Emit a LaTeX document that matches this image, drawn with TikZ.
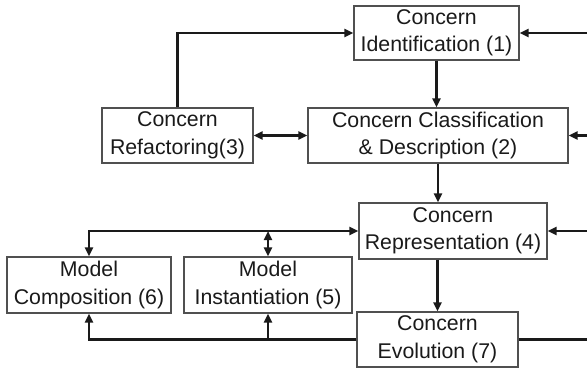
\documentclass[tikz,border=0pt]{standalone}
\usepackage{fontspec}
\setmainfont{Liberation Sans}
\usetikzlibrary{arrows.meta}
\definecolor{ink}{HTML}{1A1A1A}
\definecolor{frame}{HTML}{505050}
\begin{document}
\begin{tikzpicture}[x=1pt,y=-1pt,
  box/.style={draw=frame,line width=1.1pt,fill=white,inner sep=0pt,align=center,
    text=ink,font=\fontsize{21.3}{27.5}\selectfont},
  conn/.style={draw=ink,line width=2.2pt},
  arr/.style={conn,-{Triangle[length=9pt,width=8pt]}},
  arrtwo/.style={conn,{Triangle[length=9pt,width=8pt]}-{Triangle[length=9pt,width=8pt]}}]
\useasboundingbox (0,0) rectangle (587,370);

% process steps
\node[box,minimum width=165pt,minimum height=54pt] (b1) at (436.5,33) {Concern\\Identification (1)};
\node[box,minimum width=260pt,minimum height=55pt] (b2) at (438,135.5) {Concern Classification\\\& Description (2)};
\node[box,minimum width=151pt,minimum height=55pt] (b3) at (177.5,135.5) {Concern\\Refactoring(3)};
\node[box,minimum width=188pt,minimum height=56pt] (b4) at (453,231) {Concern\\Representation (4)};
\node[box,minimum width=168pt,minimum height=56pt] (b5) at (268,285) {Model\\Instantiation (5)};
\node[box,minimum width=164pt,minimum height=56pt] (b6) at (89,285) {Model\\Composition (6)};
\node[box,minimum width=161pt,minimum height=55pt] (b7) at (437.5,339.5) {Concern\\Evolution (7)};

% feedback lines entering from the right
\coordinate (r1) at (587,33);
\coordinate (r2) at (587,135.5);
\coordinate (r4) at (587,231);
\coordinate (r7) at (587,339.5);

% main flow
\draw[arr] (b1.south) -- (b1.south |- b2.north);
\draw[arr] (b2.south) -- (b2.south |- b4.north);
\draw[arr] (b4.south -| b7.north) -- (b7.north);
\draw[arrtwo] (b3.east) -- (b2.west);
\draw[arr] (b3.north) |- (b1.west);

% model composition / instantiation loop
\draw[arrtwo] (b6.north) |- (b4.west);
\coordinate (j5) at (b5.north |- b4.west);
\draw[arrtwo] (j5) -- (b5.north);
\draw[arr] (b7.west) -| (b6.south);
\draw[arr] (b7.west -| b5.south) -- (b5.south);

% right-hand bus
\draw[arr] (r1) -- (b1.east);
\draw[arr] (r2) -- (b2.east);
\draw[arr] (r4) -- (b4.east);
\draw[conn] (b7.east) -- (r7);
\end{tikzpicture}
\end{document}
